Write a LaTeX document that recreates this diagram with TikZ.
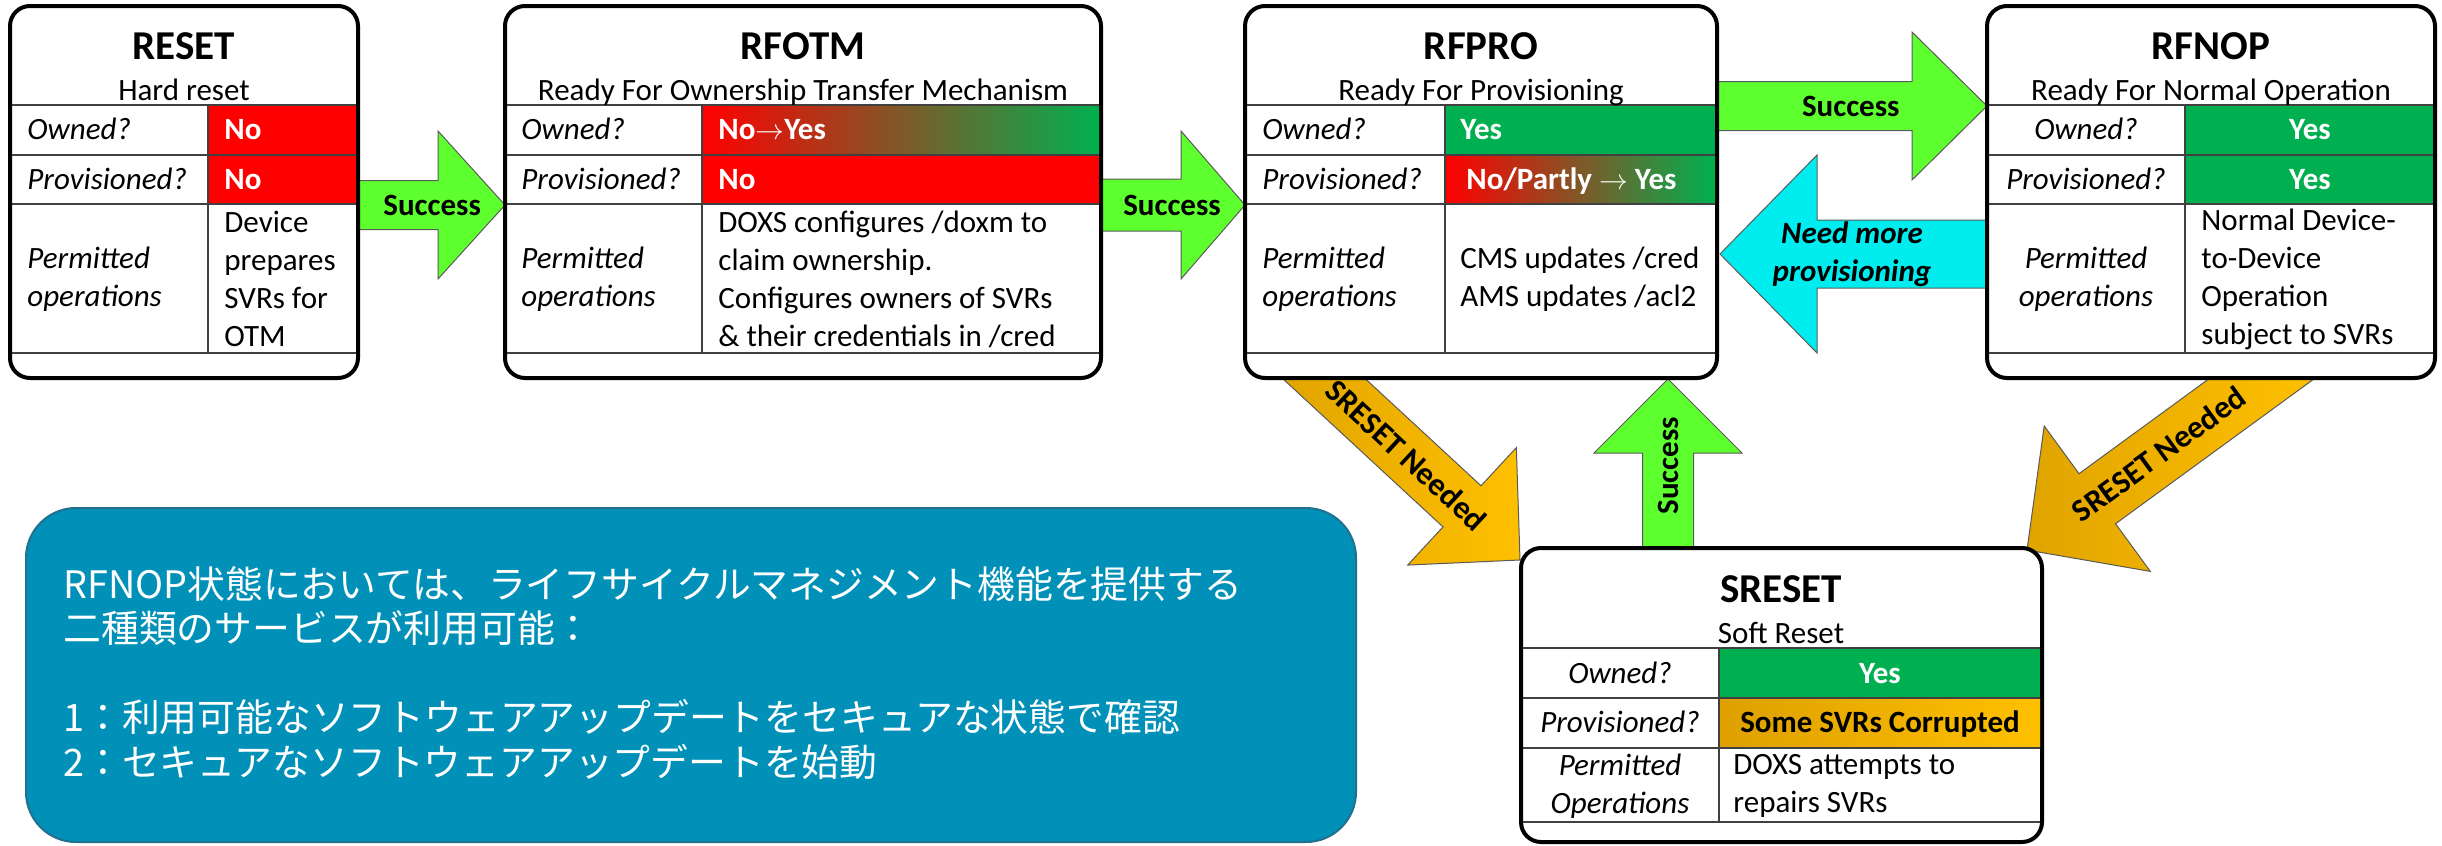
\documentclass[tikz,border=0pt]{standalone}
\usepackage{fontspec}
\setmainfont{Carlito}
\newfontfamily\jpfont{Noto Sans CJK JP}
\usetikzlibrary{calc,fit}
\pgfdeclarelayer{back}
\pgfsetlayers{back,main}

\definecolor{cellRed}{HTML}{FF0000}
\definecolor{cellGreen}{HTML}{00B050}
\definecolor{cellGoldA}{HTML}{DDA000}
\definecolor{cellGoldB}{HTML}{FFC000}
\definecolor{okLime}{HTML}{5EFF2E}
\definecolor{backCyan}{HTML}{00EDF0}
\definecolor{goldA}{HTML}{E0A400}
\definecolor{goldB}{HTML}{FFC000}
\definecolor{noteBlue}{HTML}{0090B8}
\definecolor{noteEdge}{HTML}{21708E}
\definecolor{gridGray}{HTML}{404040}
\definecolor{arrowEdge}{HTML}{5A5A5A}

% block arrow: #1 style, #2 start, #3 tip, #4 shaft half width,
% #5 head half width, #6 head length
\newcommand\blockarrow[6]{%
  \coordinate (ba-s) at ($#2$);
  \coordinate (ba-t) at ($#3$);
  \coordinate (ba-b) at ($(ba-t)!#6!(ba-s)$);
  \path[#1] ($(ba-s)!#4!90:(ba-t)$) -- ($(ba-b)!#4!90:(ba-t)$)
    -- ($(ba-b)!#5!90:(ba-t)$) -- (ba-t) -- ($(ba-b)!#5!-90:(ba-t)$)
    -- ($(ba-b)!#4!-90:(ba-t)$) -- ($(ba-s)!#4!-90:(ba-t)$) -- cycle;
}

\tikzset{
  frame/.style={draw=black, line width=2pt, fill=white, rounded corners=10pt,
    inner sep=0pt, outer sep=0pt},
  gridline/.style={draw=gridGray, line width=0.7pt},
  ttl/.style={font=\fontsize{20.5}{24}\selectfont\bfseries, inner sep=0pt, anchor=base},
  subttl/.style={font=\fontsize{15.5}{19}\selectfont, inner sep=0pt, anchor=base},
  qlabel/.style={font=\fontsize{15.5}{19}\selectfont\itshape, inner sep=0pt, anchor=base west},
  qlabelc/.style={qlabel, anchor=base},
  oplabel/.style={font=\fontsize{15.5}{19}\selectfont\itshape, inner sep=0pt,
    align=left, anchor=west},
  oplabelc/.style={oplabel, align=center, anchor=center},
  valtxt/.style={font=\fontsize{15.5}{19}\selectfont\bfseries, text=white,
    inner sep=0pt, anchor=base west},
  valtxtc/.style={valtxt, anchor=base},
  optxt/.style={font=\fontsize{15.5}{19}\selectfont, inner sep=0pt, align=left, anchor=west},
  okarrow/.style={fill=okLime, draw=arrowEdge, line width=0.5pt},
  backarrow/.style={fill=backCyan, draw=arrowEdge, line width=0.5pt},
  sresetarrow/.style={left color=goldA, right color=goldB, draw=arrowEdge, line width=0.5pt},
  arrowlbl/.style={font=\fontsize{15.5}{19}\selectfont\bfseries, inner sep=0pt, align=center},
  needlbl/.style={font=\fontsize{16}{19}\selectfont\bfseries, inner sep=0pt},
  note/.style={fill=noteBlue, draw=noteEdge, line width=1pt, rounded corners=25pt, inner sep=0pt},
  notetxt/.style={font=\jpfont\fontsize{18.9}{22.25}\selectfont, text=white,
    inner sep=0pt, align=left, anchor=west},
}

\begin{document}
\begin{tikzpicture}[x=0.5pt, y=-0.5pt]
\useasboundingbox (0,0) rectangle (2442,846);

% ---------- RESET ----------
\node[frame, fit={(10,6) (358,378)}] (reset) {};
\fill[cellRed] (208,105) rectangle (356,204);
\draw[gridline] (12,105) -- (356,105) (12,155) -- (356,155) (12,204) -- (356,204)
  (12,353) -- (356,353) (208,105) -- (208,353);
\node[ttl] (resetT) at (184,59) {RESET};
\node[subttl] (resetS) at (184,100) {Hard reset};
\node[qlabel] (resetQ1) at (27,139) {Owned?};
\node[qlabel] (resetQ2) at (27,189) {Provisioned?};
\node[oplabel] (resetQ3) at (27,279) {Permitted\\operations};
\node[valtxt] (resetV1) at (224,139) {No};
\node[valtxt] (resetV2) at (224,189) {No};
\node[optxt] (resetV3) at (224,279) {Device\\prepares\\SVRs for\\OTM};

% ---------- RFOTM ----------
\node[frame, fit={(505,6) (1101,378)}] (rfotm) {};
\shade[left color=cellRed, right color=cellGreen] (702,105) rectangle (1099,155);
\fill[cellRed] (702,155) rectangle (1099,204);
\draw[gridline] (507,105) -- (1099,105) (507,155) -- (1099,155) (507,204) -- (1099,204)
  (507,353) -- (1099,353) (702,105) -- (702,353);
\node[ttl] (rfotmT) at (803,59) {RFOTM};
\node[subttl] (rfotmS) at (803,100) {Ready For Ownership Transfer Mechanism};
\node[qlabel] (rfotmQ1) at (521,139) {Owned?};
\node[qlabel] (rfotmQ2) at (521,189) {Provisioned?};
\node[oplabel] (rfotmQ3) at (521,279) {Permitted\\operations};
\node[valtxt] (rfotmV1) at (718,139) {No$\rightarrow$Yes};
\node[valtxt] (rfotmV2) at (718,189) {No};
\node[optxt] (rfotmV3) at (718,279) {DOXS configures /doxm to\\claim ownership.\\Configures owners of SVRs\\\& their credentials in /cred};

% ---------- RFPRO ----------
\node[frame, fit={(1245,6) (1717,378)}] (rfpro) {};
\fill[cellGreen] (1445,105) rectangle (1715,155);
\shade[left color=cellRed, right color=cellGreen] (1445,155) rectangle (1715,204);
\draw[gridline] (1247,105) -- (1715,105) (1247,155) -- (1715,155) (1247,204) -- (1715,204)
  (1247,353) -- (1715,353) (1445,105) -- (1445,353);
\node[ttl] (rfproT) at (1481,59) {RFPRO};
\node[subttl] (rfproS) at (1481,100) {Ready For Provisioning};
\node[qlabel] (rfproQ1) at (1262,139) {Owned?};
\node[qlabel] (rfproQ2) at (1262,189) {Provisioned?};
\node[oplabel] (rfproQ3) at (1262,279) {Permitted\\operations};
\node[valtxt] (rfproV1) at (1460,139) {Yes};
\node[valtxt] (rfproV2) at (1466,189) {No/Partly $\rightarrow$ Yes};
\node[optxt] (rfproV3) at (1460,279) {CMS updates /cred\\AMS updates /acl2};

% ---------- RFNOP ----------
\node[frame, fit={(1987,6) (2435,378)}] (rfnop) {};
\fill[cellGreen] (2185,105) rectangle (2433,204);
\draw[gridline] (1989,105) -- (2433,105) (1989,155) -- (2433,155) (1989,204) -- (2433,204)
  (1989,353) -- (2433,353) (2185,105) -- (2185,353);
\node[ttl] (rfnopT) at (2211,59) {RFNOP};
\node[subttl] (rfnopS) at (2211,100) {Ready For Normal Operation};
\node[qlabelc] (rfnopQ1) at (2086,139) {Owned?};
\node[qlabelc] (rfnopQ2) at (2086,189) {Provisioned?};
\node[oplabelc] (rfnopQ3) at (2086,279) {Permitted\\operations};
\node[valtxtc] (rfnopV1) at (2310,139) {Yes};
\node[valtxtc] (rfnopV2) at (2310,189) {Yes};
\node[optxt] (rfnopV3) at (2201,279) {Normal Device-\\to-Device\\Operation\\subject to SVRs};

% ---------- SRESET ----------
\node[frame, fit={(1521,548) (2042,842)}] (sreset) {};
\fill[cellGreen] (1719,648) rectangle (2040,698);
\shade[left color=cellGoldA, right color=cellGoldB] (1719,698) rectangle (2040,748);
\draw[gridline] (1523,648) -- (2040,648) (1523,698) -- (2040,698) (1523,748) -- (2040,748)
  (1523,822) -- (2040,822) (1719,648) -- (1719,822);
\node[ttl] (sresetT) at (1781,602) {SRESET};
\node[subttl] (sresetS) at (1781,643) {Soft Reset};
\node[qlabelc] (sresetQ1) at (1620,683) {Owned?};
\node[qlabelc] (sresetQ2) at (1620,732) {Provisioned?};
\node[oplabelc] (sresetQ3) at (1620,786) {Permitted\\Operations};
\node[valtxtc] (sresetV1) at (1880,683) {Yes};
\node[valtxtc, text=black] (sresetV2) at (1880,732) {Some SVRs Corrupted};
\node[optxt] (sresetV3) at (1733,786) {DOXS attempts to\\repairs SVRs};

% ---------- note ----------
\node[note, fit={(26,508) (1356,842)}] (note) {};
\node[notetxt] (noteText) at (63,673) {RFNOP状態においては、ライフサイクルマネジメント機能を提供する\\
二種類のサービスが利用可能：\\[22.25pt]
1：利用可能なソフトウェアアップデートをセキュアな状態で確認\\
2：セキュアなソフトウェアアップデートを始動};

% ---------- transitions ----------
\begin{pgfonlayer}{back}
\blockarrow{okarrow}{(reset.east)+(-8,13)}{(rfotm.west)+(0,13)}{12.25pt}{37pt}{33.5pt}
\node[arrowlbl] (succA) at ($(ba-s)!0.53!(ba-t)$) {Success};
\blockarrow{okarrow}{(rfotm.east)+(-8,13)}{(rfpro.west)+(0,13)}{13pt}{37pt}{32pt}
\node[arrowlbl] (succB) at ($(ba-s)!0.52!(ba-t)$) {Success};
\blockarrow{okarrow}{(rfpro.east)+(-8,-86)}{(rfnop.west)+(0,-86)}{12.25pt}{37pt}{37.5pt}
\node[arrowlbl] (succC) at ($(ba-s)!0.51!(ba-t)$) {Success};
\blockarrow{backarrow}{(rfnop.west)+(8,62)}{(rfpro.east)+(3,62)}{17pt}{49.5pt}{48.5pt}
\node[arrowlbl, font=\fontsize{15.5}{19}\selectfont\bfseries\itshape] (needMore)
  at ($(ba-s)!0.52!(ba-t)$) {Need more\\provisioning};
\blockarrow{okarrow}{(sreset.north)+(-113.5,8)}{(rfpro.south)+(187,1)}{12.75pt}{37pt}{37pt}
\node[arrowlbl, rotate=90] (succE) at ($(ba-s)!0.51!(ba-t)$) {Success};
\blockarrow{sresetarrow}{(rfpro.south)+(-188,-28)}{(sreset.north west)+(-1,12)}{14pt}{40pt}{39.5pt}
\node[needlbl, rotate=-42.8] (needA) at ($(ba-s)!0.50!(ba-t)$) {SRESET Needed};
\blockarrow{sresetarrow}{(rfnop.south)+(90,-28)}{(sreset.north east)+(-15,2)}{15.5pt}{45pt}{43.5pt}
\node[needlbl, rotate=36.1] (needB) at ($(ba-s)!0.52!(ba-t)$) {SRESET Needed};
\end{pgfonlayer}
\end{tikzpicture}
\end{document}
